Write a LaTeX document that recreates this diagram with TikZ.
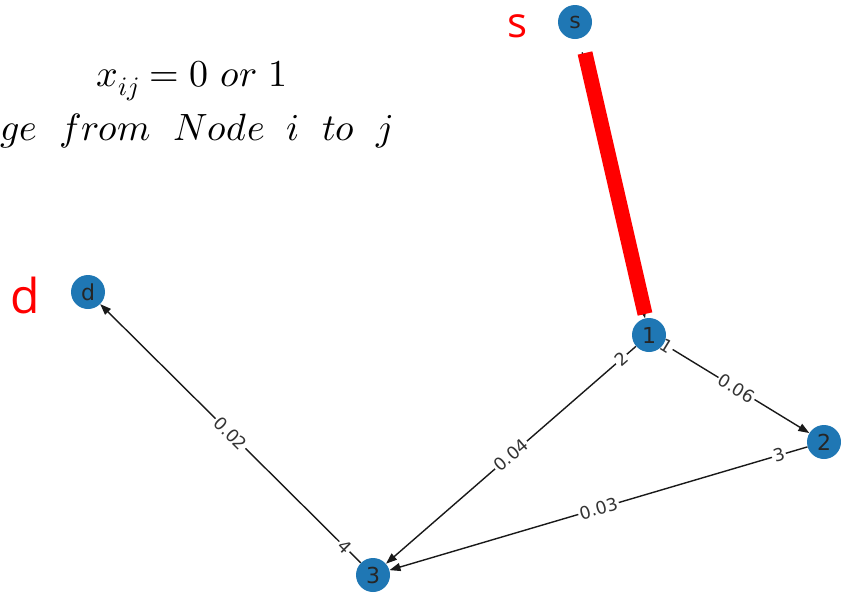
\documentclass[tikz,border=0pt]{standalone}
\usepackage{fontspec}
\usepackage{unicode-math}
\setmathfont{Latin Modern Math}
\usetikzlibrary{arrows.meta}
\newfontfamily\labfont{DejaVu Sans}
\newfontfamily\redfont{Open Sans}
\definecolor{nxblue}{HTML}{1F77B4}
\definecolor{hired}{HTML}{FF0000}
\pgfdeclarelayer{bg}
\pgfsetlayers{bg,main}
\newcommand{\wsp}{\hspace{22pt}}
\begin{document}
\begin{tikzpicture}[x=1pt,y=-1pt,
  vtx/.style={circle,fill=nxblue,minimum size=34pt,inner sep=0pt,
    font=\labfont\fontsize{22}{22}\selectfont,text=black!85},
  edgeline/.style={draw=black!90,line width=1.4pt,
    -{Triangle[length=11pt,width=8pt]}},
  elab/.style={fill=white,inner sep=1.5pt,sloped,
    font=\labfont\fontsize{17.5}{17.5}\selectfont,text=black!80},
  redlab/.style={text=hired,font=\redfont\fontsize{42}{42}\selectfont,inner sep=0pt},
  mathlab/.style={inner sep=0pt,font=\fontsize{38}{44}\selectfont}]
\useasboundingbox (0,0) rectangle (841,595);
\clip (0,0) rectangle (841,595);

% nodes
\node[vtx] (s) at (575,22) {s};
\node[vtx] (n1) at (649,335) {1};
\node[vtx] (n2) at (824,442) {2};
\node[vtx] (n3) at (373,575) {3};
\node[vtx] (d) at (88,292) {d};

% edges and labels behind nodes
\begin{pgfonlayer}{bg}
\draw[edgeline,shorten <=14pt] (s) -- (n1);
\draw[edgeline] (n1) -- (n2);
\draw[edgeline] (n1) -- (n3);
\draw[edgeline] (n2) -- (n3);
\draw[edgeline] (n3) -- (d);
\path (n1.center) -- node[elab,pos=0.5]{0.06} node[elab,pos=0.1]{1} (n2.center);
\path (n1.center) -- node[elab,pos=0.5]{0.04} node[elab,pos=0.1]{2} (n3.center);
\path (n2.center) -- node[elab,pos=0.5]{0.03} node[elab,pos=0.1]{3} (n3.center);
\path (n3.center) -- node[elab,pos=0.5]{0.02} node[elab,pos=0.1]{4} (d.center);
\end{pgfonlayer}

% highlighted path s -> 1
\coordinate (redA) at (585,53);
\coordinate (redB) at (645,314);
\draw[hired,line width=15pt] (redA) -- (redB);

% red labels
\node[redlab,anchor=base west] (slab) at (507,37) {s};
\node[redlab,anchor=base west,font=\redfont\fontsize{48}{48}\selectfont] (dlab) at (10,313) {d};

% formula
\node[mathlab,anchor=base] (eq1) at (192,86) {$x_{ij} = 0\ or\ 1$};
\node[mathlab,anchor=base east] (eq2) at (393,140) {$edge\wsp from\wsp Node\wsp i\wsp to\wsp j$};
\end{tikzpicture}
\end{document}
